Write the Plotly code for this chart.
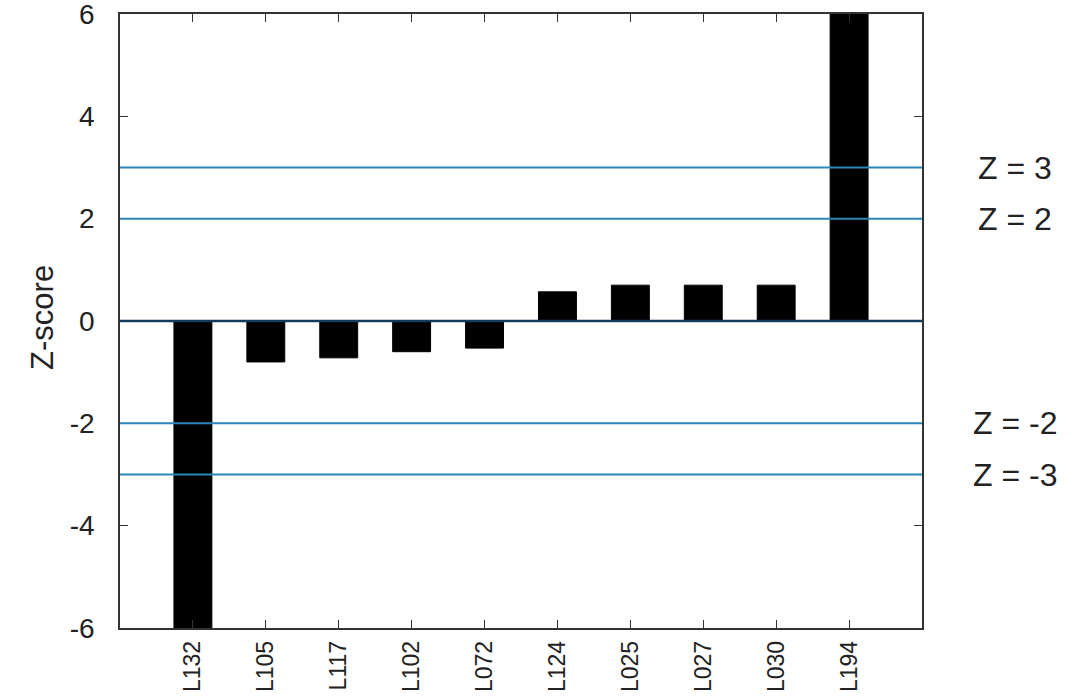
import plotly.graph_objects as go

labs = ["L132", "L105", "L117", "L102", "L072", "L124", "L025", "L027", "L030", "L194"]
zvals = [-7.0, -0.8, -0.72, -0.6, -0.53, 0.57, 0.7, 0.7, 0.7, 7.5]
ytick_vals = [-6, -4, -2, 0, 2, 4, 6]
ytick_text = ["-6", "-4", "-2", "0", "2", "4", "6"]
ref_levels = [3, 2, -2, -3]
ref_text = ["Z = 3", "Z = 2", "Z = -2", "Z = -3"]

FONT = "Liberation Sans, Arial, sans-serif"
fig = go.Figure()
fig.add_trace(go.Bar(x=list(range(len(labs))), y=zvals, width=0.52,
                     marker=dict(color="black", line=dict(color="black", width=1)),
                     showlegend=False))

for lv, tx in zip(ref_levels, ref_text):
    fig.add_shape(type="line", xref="paper", yref="y", x0=0, x1=1, y0=lv, y1=lv,
                  line=dict(color="#2b86b5", width=2), layer="above")
    fig.add_annotation(xref="paper", yref="y", x=1.116, y=lv, text=tx, showarrow=False,
                       xanchor="center", yanchor="middle",
                       font=dict(family=FONT, size=32, color="#222"))
fig.add_shape(type="line", xref="paper", yref="y", x0=0, x1=1, y0=0, y1=0,
              line=dict(color="#163a5a", width=2.5), layer="above")

fig.add_annotation(xref="paper", yref="paper", x=-0.096, y=0.505, text="Z-score", textangle=-90,
                   showarrow=False, xanchor="center", yanchor="middle",
                   font=dict(family=FONT, size=31, color="#222"))

fig.update_layout(
    width=1091, height=699,
    margin=dict(l=120, r=169, t=14, b=71, autoexpand=False),
    paper_bgcolor="white", plot_bgcolor="white",
    font=dict(family=FONT, color="#222"),
)
fig.update_xaxes(range=[-1, 10], tickmode="array", tickvals=list(range(len(labs))), ticktext=labs,
                 tickangle=-90, ticks="inside", ticklen=8, tickcolor="#333",
                 showline=True, linecolor="#333", linewidth=1.5, mirror="allticks",
                 showgrid=False, zeroline=False, tickfont=dict(size=23, color="#222"),
                 automargin=False, ticklabelstandoff=2, ticklabeloverflow="allow")
fig.update_yaxes(range=[-6, 6], tickmode="array", tickvals=ytick_vals, ticktext=ytick_text,
                 ticks="inside", ticklen=8, tickcolor="#333",
                 showline=True, linecolor="#333", linewidth=1.5, mirror="allticks",
                 showgrid=False, zeroline=False, tickfont=dict(size=28, color="#222"),
                 ticklabelstandoff=18, automargin=False, ticklabeloverflow="allow")
fig.write_html("out.html", config={"displayModeBar": False},
               post_script="document.body.style.margin='0';")
